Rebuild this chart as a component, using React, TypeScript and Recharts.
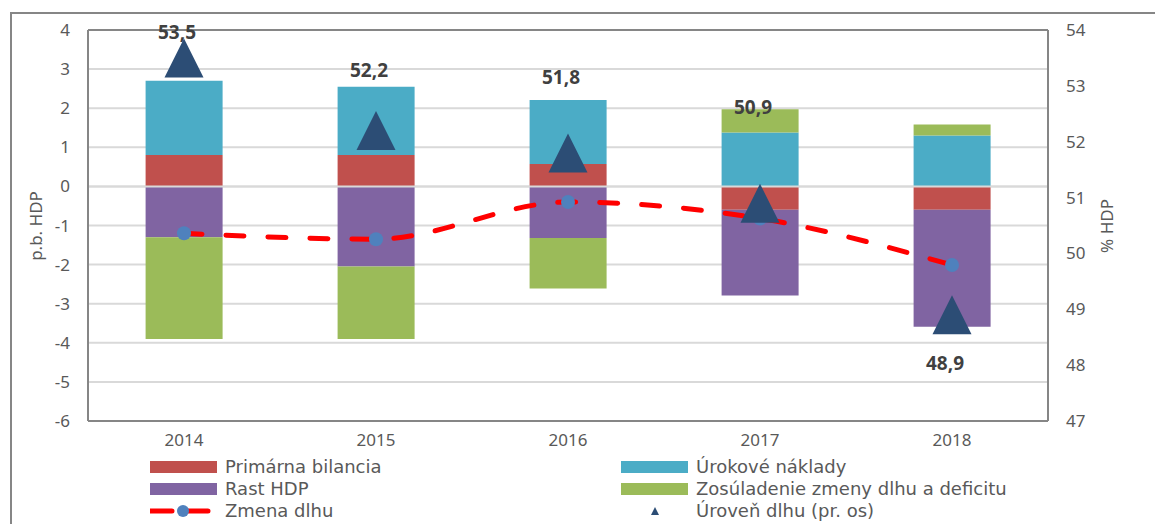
import {
  Bar,
  CartesianGrid,
  ComposedChart,
  LabelList,
  Line,
  ReferenceLine,
  XAxis,
  YAxis,
} from "recharts";

const years = ["2014", "2015", "2016", "2017", "2018"];
const primarnaBilancia = [0.8, 0.8, 0.57, -0.6, -0.6];
const urokoveNaklady = [1.9, 1.75, 1.64, 1.38, 1.3];
const rastHdp = [-1.3, -2.05, -1.32, -2.19, -2.99];
const zosuladenie = [-2.6, -1.85, -1.29, 0.59, 0.28];
const zmenaDlhu = [-1.2, -1.35, -0.4, -0.82, -2.01];
const urovenDlhu = [53.5, 52.2, 51.8, 50.9, 48.9];

const leftTicks = [-6, -5, -4, -3, -2, -1, 0, 1, 2, 3, 4];
const rightTicks = [47, 48, 49, 50, 51, 52, 53, 54];

// manual label placement, like in the original excel chart
const labelShift = [-26, -61, -76, -96, 48];

const data = years.map((year, i) => ({
  year,
  primarna: primarnaBilancia[i],
  urokove: urokoveNaklady[i],
  rast: rastHdp[i],
  zosuladenie: zosuladenie[i],
  zmena: zmenaDlhu[i],
  uroven: urovenDlhu[i],
}));

const RED = "#C0504D";
const BLUE = "#4BACC6";
const PURPLE = "#8064A2";
const GREEN = "#9BBB59";
const NAVY = "#2C4D75";
const DOT = "#4F81BD";
const TEXT = "#595959";
const FRAME = "#868686";
const FONT = "'Noto Sans', sans-serif";
const LEGEND_FONT = "'DejaVu Sans', sans-serif";

const Triangle = (props: any) => {
  const { cx, cy } = props;
  if (cx == null || cy == null) return null;
  const w = 39;
  const h = 39;
  return (
    <path
      d={`M${cx},${cy - h / 2} L${cx + w / 2},${cy + h / 2} L${cx - w / 2},${cy + h / 2} Z`}
      fill={NAVY}
    />
  );
};

const renderLevelLabel = (props: any) => {
  const { x, y, value, index } = props;
  return (
    <text
      x={x - 7}
      y={y + labelShift[index]}
      textAnchor="middle"
      dominantBaseline="central"
      fontFamily={FONT}
      fontWeight="bold"
      fontSize={19}
      fill="#404040"
    >
      {Number(value).toFixed(1).replace(".", ",")}
    </text>
  );
};

const Swatch = ({ color }: { color: string }) => (
  <div style={{ width: 67, height: 12, background: color }} />
);

const LegendRow = ({
  left,
  top,
  icon,
  label,
}: {
  left: number;
  top: number;
  icon: any;
  label: string;
}) => (
  <div
    style={{
      position: "absolute",
      left,
      top: top - 10,
      height: 20,
      display: "flex",
      alignItems: "center",
      gap: 8,
      fontFamily: LEGEND_FONT,
      fontSize: 18,
      lineHeight: "20px",
      color: TEXT,
      whiteSpace: "nowrap",
    }}
  >
    <div style={{ width: 67, display: "flex", justifyContent: "center" }}>{icon}</div>
    <span>{label}</span>
  </div>
);

export default function App() {
  return (
    <div
      style={{
        position: "absolute",
        left: 0,
        top: 0,
        width: 1155,
        height: 524,
        overflow: "hidden",
        background: "#fff",
        fontFamily: FONT,
      }}
    >
      <div
        style={{
          position: "absolute",
          left: 10,
          top: 12,
          width: 1300,
          height: 700,
          border: `2px solid ${FRAME}`,
        }}
      />
      <div style={{ position: "absolute", left: 0, top: 0 }}>
        <ComposedChart
          width={1155}
          height={460}
          data={data}
          stackOffset="sign"
          barCategoryGap="30%"
          margin={{ top: 30, right: 0, bottom: 9, left: 0 }}
        >
          <CartesianGrid
            yAxisId="left"
            vertical={false}
            stroke="#D9D9D9"
            strokeWidth={2}
          />
          <XAxis
            dataKey="year"
            height={30}
            tickLine={false}
            tickSize={0}
            tickMargin={13}
            axisLine={{ stroke: FRAME, strokeWidth: 2 }}
            tick={{ fill: TEXT, fontSize: 17, fontFamily: FONT }}
          />
          <YAxis
            yAxisId="left"
            width={88}
            domain={[-6, 4]}
            ticks={leftTicks}
            interval={0}
            tickLine={false}
            tickSize={0}
            tickMargin={18}
            axisLine={{ stroke: FRAME, strokeWidth: 2 }}
            tick={{ fill: TEXT, fontSize: 17, fontFamily: FONT }}
          />
          <YAxis
            yAxisId="right"
            orientation="right"
            width={107}
            domain={[47, 54]}
            ticks={rightTicks}
            interval={0}
            tickLine={false}
            tickSize={0}
            tickMargin={18}
            axisLine={{ stroke: FRAME, strokeWidth: 2 }}
            tick={{ fill: TEXT, fontSize: 17, fontFamily: FONT, textAnchor: "start" }}
          />
          <ReferenceLine yAxisId="left" y={4} stroke={FRAME} strokeWidth={2} />
          <Bar yAxisId="left" dataKey="primarna" stackId="a" fill={RED} isAnimationActive={false} />
          <Bar yAxisId="left" dataKey="urokove" stackId="a" fill={BLUE} isAnimationActive={false} />
          <Bar yAxisId="left" dataKey="rast" stackId="a" fill={PURPLE} isAnimationActive={false} />
          <Bar yAxisId="left" dataKey="zosuladenie" stackId="a" fill={GREEN} isAnimationActive={false} />
          <ReferenceLine yAxisId="left" y={0} stroke="#D9D9D9" strokeWidth={2} />
          <Line
            yAxisId="left"
            dataKey="zmena"
            type="monotone"
            stroke="#FF0000"
            strokeWidth={5}
            strokeDasharray="18 24"
            strokeLinecap="round"
            dot={{ r: 7, fill: DOT, stroke: "none" }}
            activeDot={false}
            isAnimationActive={false}
          />
          <Line
            yAxisId="right"
            dataKey="uroven"
            stroke="none"
            dot={<Triangle />}
            activeDot={false}
            isAnimationActive={false}
          >
            <LabelList dataKey="uroven" content={renderLevelLabel} />
          </Line>
        </ComposedChart>
      </div>

      <div
        style={{
          position: "absolute",
          left: 35,
          top: 226,
          transform: "translate(-50%, -50%) rotate(-90deg)",
          fontSize: 17,
          color: TEXT,
          whiteSpace: "nowrap",
        }}
      >
        p.b. HDP
      </div>
      <div
        style={{
          position: "absolute",
          left: 1106,
          top: 226,
          transform: "translate(-50%, -50%) rotate(-90deg)",
          fontSize: 17,
          color: TEXT,
          whiteSpace: "nowrap",
        }}
      >
        % HDP
      </div>

      <LegendRow left={150} top={467} icon={<Swatch color={RED} />} label="Primárna bilancia" />
      <LegendRow left={150} top={489} icon={<Swatch color={PURPLE} />} label="Rast HDP" />
      <LegendRow
        left={150}
        top={511}
        icon={
          <svg width={67} height={16}>
            <line x1={0} y1={8} x2={67} y2={8} stroke="#FF0000" strokeWidth={5} strokeDasharray="22 14" strokeLinecap="round" />
            <circle cx={33} cy={8} r={6} fill={DOT} />
          </svg>
        }
        label="Zmena dlhu"
      />
      <LegendRow left={621} top={467} icon={<Swatch color={BLUE} />} label="Úrokové náklady" />
      <LegendRow
        left={621}
        top={489}
        icon={<Swatch color={GREEN} />}
        label="Zosúladenie zmeny dlhu a deficitu"
      />
      <LegendRow
        left={621}
        top={511}
        icon={
          <svg width={10} height={10}>
            <path d="M5,1 L9,9 L1,9 Z" fill={NAVY} />
          </svg>
        }
        label="Úroveň dlhu (pr. os)"
      />
    </div>
  );
}
